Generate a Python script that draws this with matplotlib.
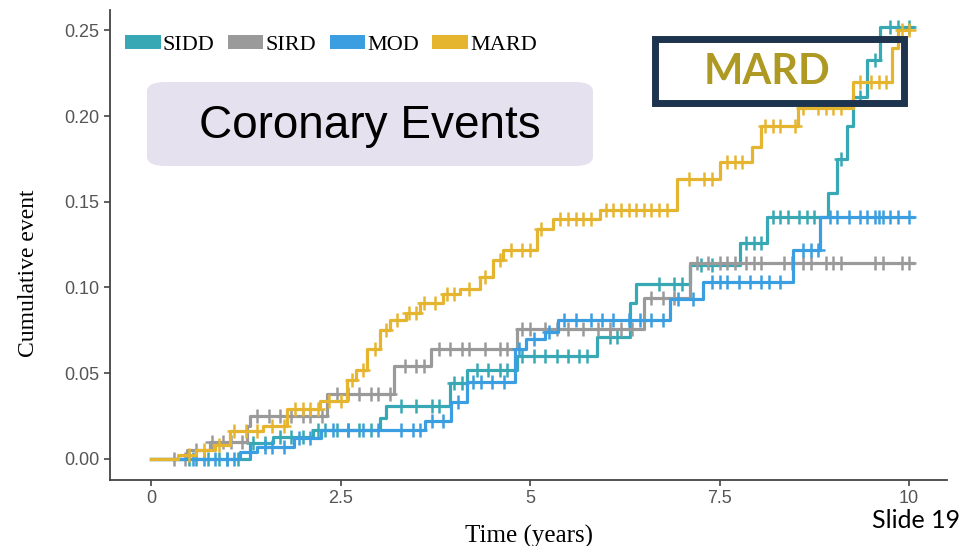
import numpy as np
import matplotlib.pyplot as plt
from matplotlib.patches import FancyBboxPatch, Rectangle, Patch

# step knots: (time, cumulative event)
sidd_t = [0, 1.31, 1.61, 2.14, 3.02, 3.10, 3.95, 4.17, 4.83, 5.88, 6.32, 6.40, 7.11, 7.77, 8.12, 8.93, 9.05, 9.18, 9.26, 9.45, 9.62, 10.05]
sidd_y = [0, 0.009, 0.013, 0.017, 0.024, 0.031, 0.044, 0.052, 0.060, 0.071, 0.091, 0.102, 0.113, 0.126, 0.141, 0.155, 0.175, 0.194, 0.211, 0.233, 0.252, 0.252]

sird_t = [0, 0.47, 0.78, 1.27, 1.30, 2.32, 3.21, 3.69, 4.83, 6.50, 7.11, 10.05]
sird_y = [0, 0.005, 0.010, 0.019, 0.025, 0.038, 0.054, 0.064, 0.076, 0.094, 0.114, 0.114]

mod_t = [0, 1.18, 1.40, 1.88, 2.24, 3.62, 3.96, 4.17, 4.80, 4.95, 5.20, 5.37, 6.85, 7.28, 8.47, 8.83, 10.05]
mod_y = [0, 0.004, 0.007, 0.012, 0.017, 0.022, 0.033, 0.045, 0.064, 0.070, 0.074, 0.081, 0.093, 0.103, 0.122, 0.141, 0.141]

mard_t = [0, 0.35, 0.60, 0.85, 1.04, 1.48, 1.80, 2.23, 2.58, 2.70, 2.85, 3.02, 3.15, 3.37, 3.55, 3.85, 4.08, 4.34, 4.51, 4.64,
          5.09, 5.30, 5.92, 6.94, 7.51, 7.93, 8.04, 8.54, 9.26, 9.78, 9.85, 10.0]
mard_y = [0, 0.002, 0.005, 0.008, 0.016, 0.019, 0.029, 0.034, 0.046, 0.052, 0.064, 0.075, 0.081, 0.085, 0.091, 0.096, 0.099, 0.106, 0.116, 0.122,
          0.134, 0.140, 0.145, 0.163, 0.173, 0.182, 0.194, 0.205, 0.220, 0.240, 0.250, 0.250]

# censoring marks (times)
sidd_c = [0.5, 0.6, 0.75, 0.9, 1.0, 1.15, 1.35, 1.5, 1.7, 1.85, 2.0, 2.2, 2.3, 2.45, 2.6, 2.75, 2.9, 3.3, 3.5, 3.7, 3.8, 4.0, 4.1,
          4.3, 4.45, 4.6, 4.7, 4.9, 5.05, 5.2, 5.35, 5.5, 5.65, 5.75, 6.05, 6.15, 6.7, 6.9, 7.0, 7.25, 7.4, 7.85, 7.95, 8.05,
          8.2, 8.3, 8.4, 8.55, 8.65, 8.75, 9.1, 9.35, 9.55, 9.75, 9.85, 10.0]
sird_c = [0.3, 0.45, 0.6, 0.8, 0.95, 1.05, 1.2, 1.4, 1.55, 1.7, 1.85, 2.0, 2.1, 2.25, 2.45, 2.6, 2.75, 2.9, 3.0, 3.15, 3.35, 3.5,
          3.6, 3.8, 3.95, 4.1, 4.2, 4.4, 4.6, 4.7, 4.9, 5.0, 5.2, 5.35, 5.5, 5.7, 5.9, 6.05, 6.2, 6.35, 6.6, 6.75, 6.9, 7.2,
          7.35, 7.5, 7.6, 7.7, 7.85, 7.95, 8.05, 8.35, 8.45, 8.6, 8.7, 8.9, 9.0, 9.1, 9.55, 9.65, 9.9, 10.0]
mod_c = [0.55, 0.7, 0.85, 1.0, 1.1, 1.3, 1.5, 1.6, 1.75, 1.95, 2.1, 2.4, 2.6, 2.8, 3.0, 3.3, 3.45, 3.55, 3.7, 3.85, 4.05, 4.25,
         4.35, 4.5, 4.65, 4.85, 5.05, 5.25, 5.45, 5.6, 5.8, 5.95, 6.1, 6.3, 6.45, 6.6, 6.75, 6.95, 7.15, 7.4, 7.5, 7.6, 7.75,
         7.9, 8.05, 8.15, 8.3, 8.6, 8.7, 8.8, 8.95, 9.05, 9.2, 9.35, 9.45, 9.55, 9.6, 9.65, 9.75, 9.85, 10.0]
mard_c = [0.5, 0.7, 0.9, 1.1, 1.25, 1.4, 1.6, 1.75, 1.9, 2.0, 2.1, 2.2, 2.35, 2.5, 2.65, 2.8, 2.95, 3.1, 3.25, 3.4, 3.5, 3.6,
          3.75, 3.9, 4.0, 4.2, 4.4, 4.6, 4.75, 4.9, 5.0, 5.15, 5.4, 5.5, 5.6, 5.7, 5.8, 6.0, 6.1, 6.2, 6.3, 6.4, 6.5, 6.6,
          6.7, 6.8, 7.1, 7.3, 7.4, 7.6, 7.7, 7.8, 8.1, 8.2, 8.3, 8.5, 8.6, 8.8, 8.9, 9.0, 9.1, 9.35, 9.5, 9.6, 9.7, 9.9, 10.0]

labels = ["SIDD", "SIRD", "MOD", "MARD"]
colors = ["#38a9b4", "#9a9a9a", "#3a9ee0", "#e6b530"]
x_ticks = [0, 2.5, 5, 7.5, 10]
x_ticklabels = ["0", "2.5", "5", "7.5", "10"]
y_ticks = [0, 0.05, 0.10, 0.15, 0.20, 0.25]


def step_value(t, y, c):
    idx = np.searchsorted(t, c, side="right") - 1
    return np.array(y)[idx]


fig = plt.figure(figsize=(9.79, 5.46), dpi=100)
ax = fig.add_axes([0.1124, 0.121, 0.855, 0.861])

series = [(sidd_t, sidd_y, sidd_c), (sird_t, sird_y, sird_c), (mod_t, mod_y, mod_c), (mard_t, mard_y, mard_c)]
for (t, y, c), col in zip(series, colors):
    ax.step(t, y, where="post", color=col, lw=2.3)
    ax.plot(c, step_value(t, y, c), ls="none", marker="+", ms=10, mew=1.8, color=col)

ax.set_xlim(-0.54, 10.5)
ax.set_ylim(-0.0123, 0.262)
ax.set_xticks(x_ticks)
ax.set_xticklabels(x_ticklabels)
ax.set_yticks(y_ticks)
ax.set_yticklabels([f"{v:.2f}" for v in y_ticks])
for s in ["top", "right"]:
    ax.spines[s].set_visible(False)
for s in ["left", "bottom"]:
    ax.spines[s].set_color("#444444")
    ax.spines[s].set_linewidth(1.3)
ax.tick_params(length=4, width=1.2, color="#444444", labelcolor="#555555", labelsize=13,
               labelfontfamily="Liberation Sans")

ax.set_xlabel("Time (years)", family="Liberation Serif", fontsize=18, color="black")
ax.set_ylabel("Cumulative event", family="Liberation Serif", fontsize=17, color="black")
ax.xaxis.set_label_coords(0.5, -0.095)
ax.yaxis.set_label_coords(-0.085, 0.44)

handles = [Patch(facecolor=c, edgecolor="none") for c in colors]
fig.legend(handles, labels, ncol=4, loc="center left", bbox_to_anchor=(125 / 979, 1 - 45 / 546), frameon=False,
           prop={"family": "Liberation Serif", "size": 16}, handlelength=1.6, handleheight=0.6,
           handletextpad=0.1, columnspacing=0.6, borderaxespad=0, borderpad=0)

# title box
fig.patches.append(FancyBboxPatch((147 / 979, 1 - 166 / 546), 446 / 979, 84 / 546,
                                  boxstyle="round,pad=0,rounding_size=0.018", transform=fig.transFigure,
                                  facecolor="#e6e1ee", edgecolor="none", zorder=5))
fig.text(370 / 979, 1 - 126 / 546, "Coronary Events", family="Liberation Sans", fontsize=33,
         ha="center", va="center", color="black", zorder=6)

# MARD box
fig.patches.append(Rectangle((655 / 979, 1 - 103 / 546), 249 / 979, 64 / 546, transform=fig.transFigure,
                             facecolor="none", edgecolor="#1e334d", lw=5, zorder=5))
fig.text(767 / 979, 1 - 72 / 546, "MARD", family="Lato", weight="bold", fontsize=30,
         ha="center", va="center", color="#ae9a22", zorder=6)

fig.text(916 / 979, 1 - 520 / 546, "Slide 19", family="Lato", fontsize=18,
         ha="center", va="center", color="black")

fig.savefig("out.png", dpi=100)
